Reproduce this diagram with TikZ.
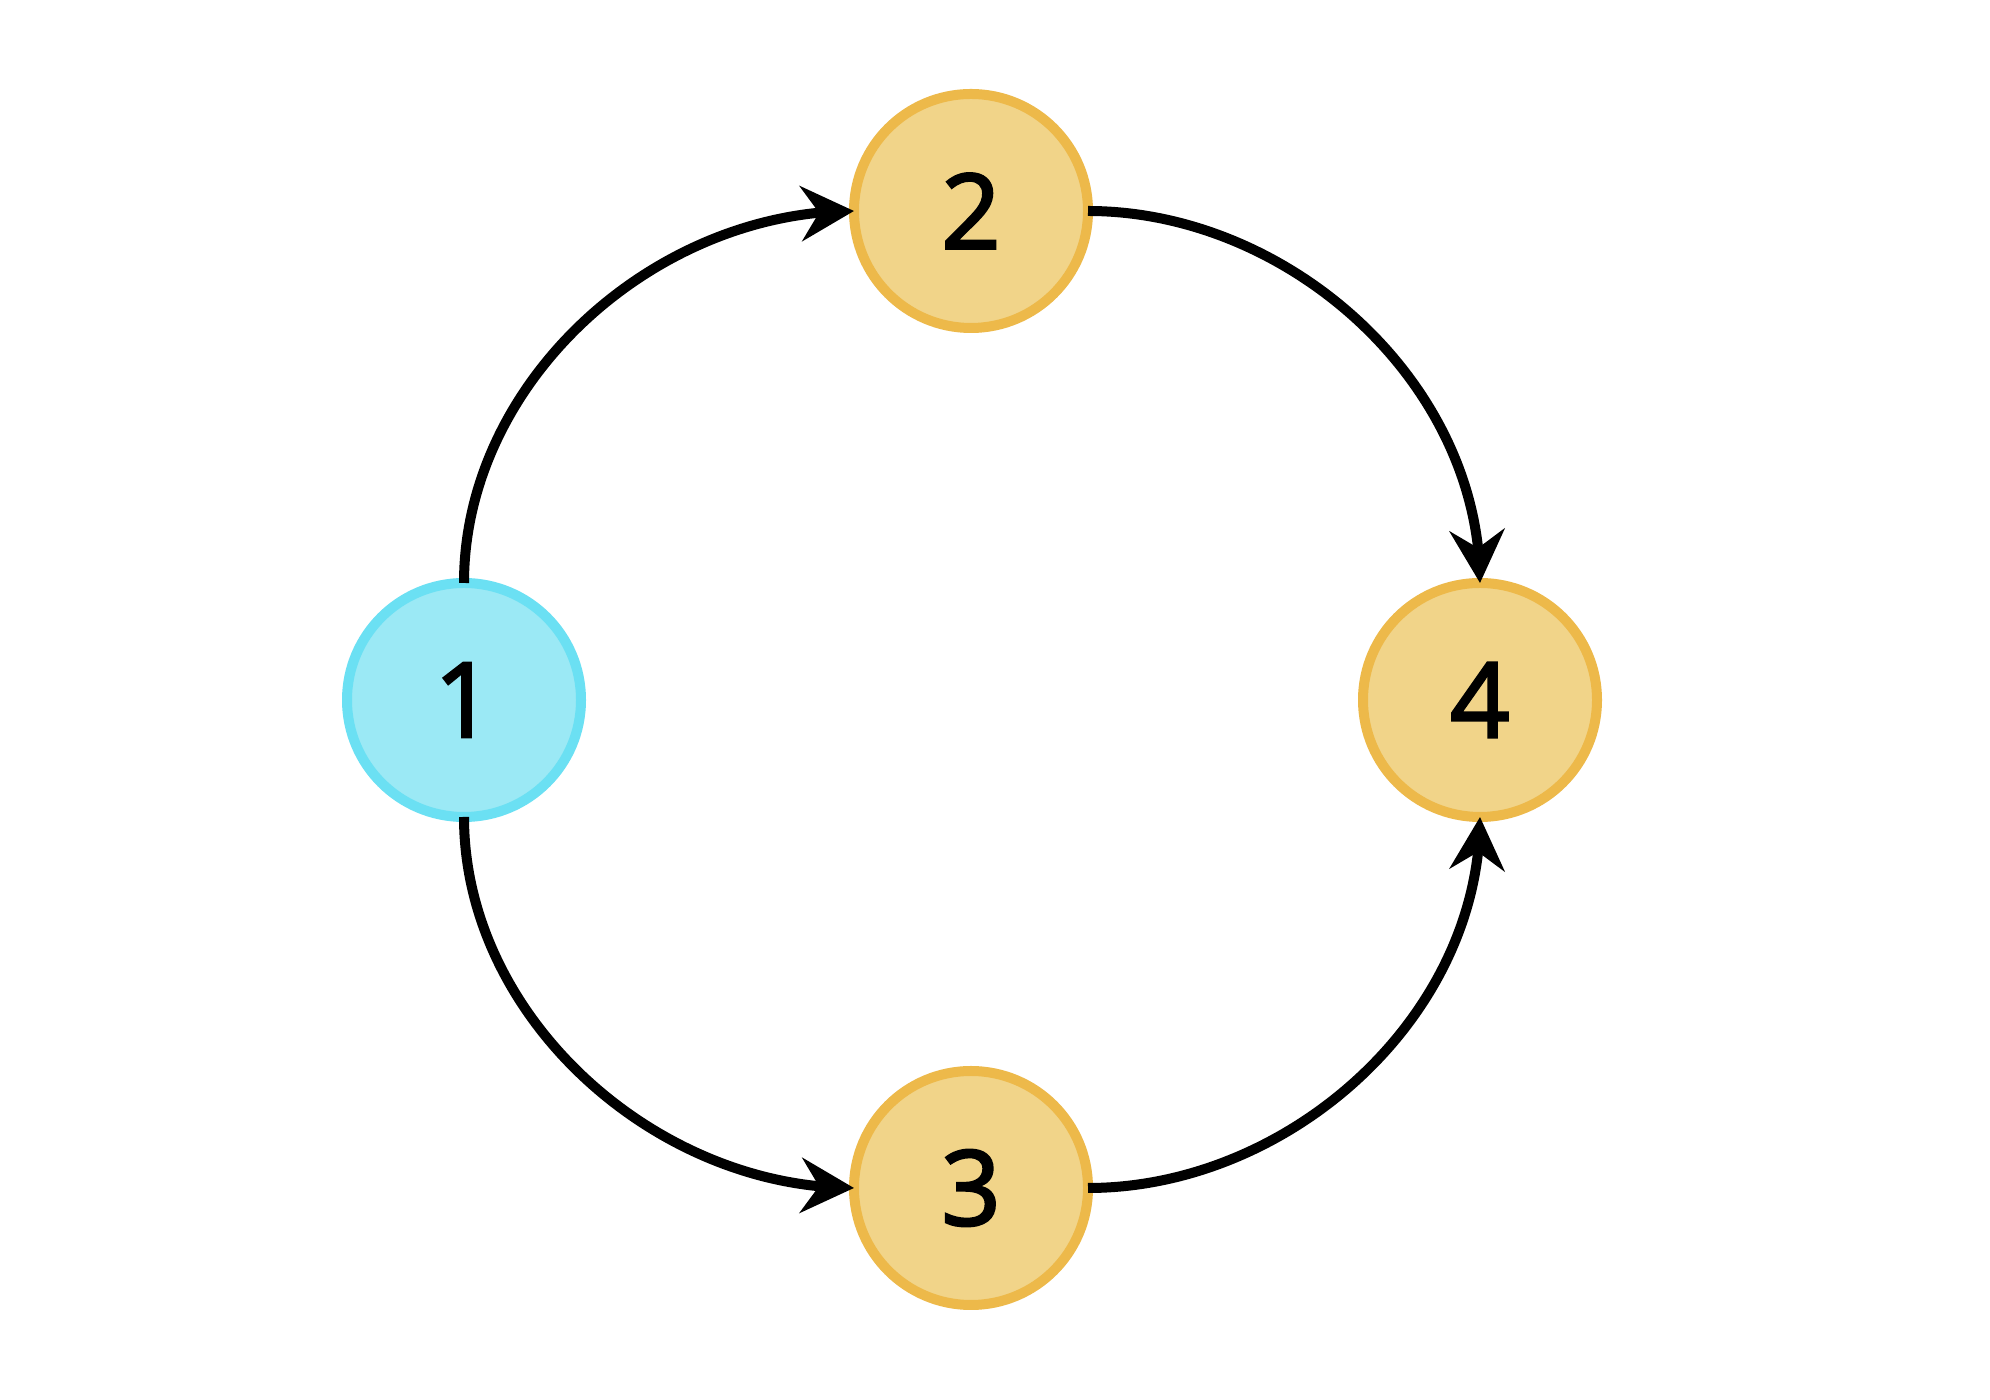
\documentclass[tikz,border=0pt]{standalone}
\usepackage{fontspec}
\setmainfont{Open Sans}
\newfontfamily\digitfont[FakeBold=2.5]{Open Sans}
\usetikzlibrary{arrows.meta,bending}
\definecolor{cyanfill}{HTML}{9BE9F5}
\definecolor{cyanline}{HTML}{6BE0F3}
\definecolor{goldfill}{HTML}{F1D489}
\definecolor{goldline}{HTML}{EDB94A}
\tikzset{
  statenode/.style={circle, minimum size=234pt, inner sep=0pt, outer sep=0pt,
    line width=10pt, font=\digitfont\fontsize{104}{110}\selectfont},
  startnode/.style={statenode, draw=cyanline, fill=cyanfill},
  goldnode/.style={statenode, draw=goldline, fill=goldfill},
  flow/.style={line width=10pt, draw=black,
    -{Stealth[length=53pt, width=55pt, inset=18pt, flex]}, looseness=0.95}
}
\begin{document}
\begin{tikzpicture}[x=1pt,y=1pt]
  \useasboundingbox[fill=white] (0,0) rectangle (1990,1400);
  \node[startnode] (n1) at (464,700) {1};
  \node[goldnode] (n2) at (971,1189) {2};
  \node[goldnode] (n3) at (971,212) {3};
  \node[goldnode] (n4) at (1480,700) {4};
  \draw[flow] (n1.north) to[out=90, in=180] (n2.west);
  \draw[flow] (n2.east) to[out=0, in=90] (n4.north);
  \draw[flow] (n1.south) to[out=-90, in=180] (n3.west);
  \draw[flow] (n3.east) to[out=0, in=-90] (n4.south);
\end{tikzpicture}
\end{document}
